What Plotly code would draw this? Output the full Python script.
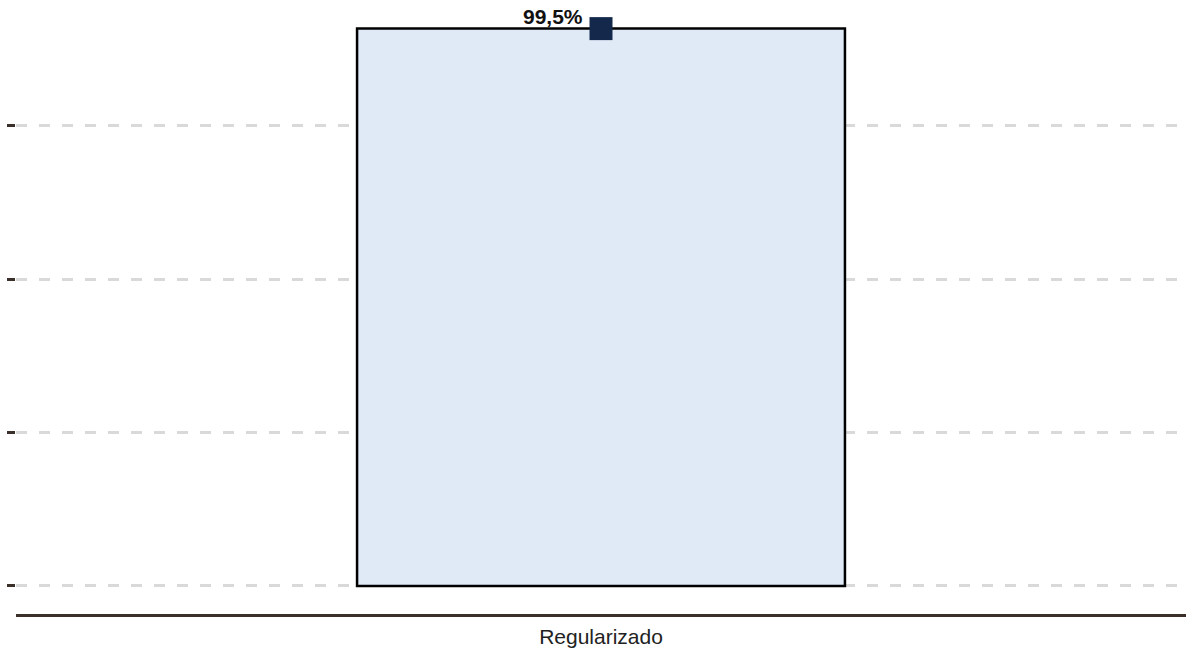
import plotly.graph_objects as go

categories = ["Regularizado"]
values = [99.5]
value_labels = ["99,5%"]
grid_values = [0, 27.4, 54.7, 82.2]

fig = go.Figure()
fig.add_trace(go.Bar(
    x=categories, y=values, width=0.417,
    marker=dict(color="#dfeaf6", line=dict(color="#000000", width=2.5)),
    hoverinfo="skip", showlegend=False,
))
fig.add_trace(go.Scatter(
    x=categories, y=values, mode="markers",
    marker=dict(symbol="square", size=23, color="#13284a",
                line=dict(color="#13284a", width=0)),
    showlegend=False, hoverinfo="skip",
))
for c, v, t in zip(categories, values, value_labels):
    fig.add_annotation(x=c, y=v, text="<b>" + t + "</b>", showarrow=False,
                       xanchor="right", yanchor="middle", xshift=-16, yshift=12,
                       font=dict(family="Liberation Sans, Arial", size=21, color="#111111"))

fig.update_layout(
    width=1186, height=653,
    margin=dict(l=16, r=0, t=9, b=39),
    plot_bgcolor="white", paper_bgcolor="white",
    font=dict(family="Liberation Sans, Arial", size=21, color="#222222"),
    xaxis=dict(range=[-0.5, 0.5], showline=True, linecolor="#3b3029", linewidth=2.5,
               showgrid=False, ticks="", ticklabelstandoff=2,
               tickfont=dict(size=21, color="#222222")),
    yaxis=dict(range=[-5, 103], tickvals=grid_values, showticklabels=False,
               ticks="outside", ticklen=8, tickwidth=3, tickcolor="#3b3029",
               showgrid=True, gridcolor="#d9d9d9", gridwidth=2.5, griddash="11px,12px",
               zeroline=False, showline=False),
)
fig.write_html("out.html", config={"displayModeBar": False},
               post_script="document.body.style.margin='0';document.body.style.overflow='hidden';")
